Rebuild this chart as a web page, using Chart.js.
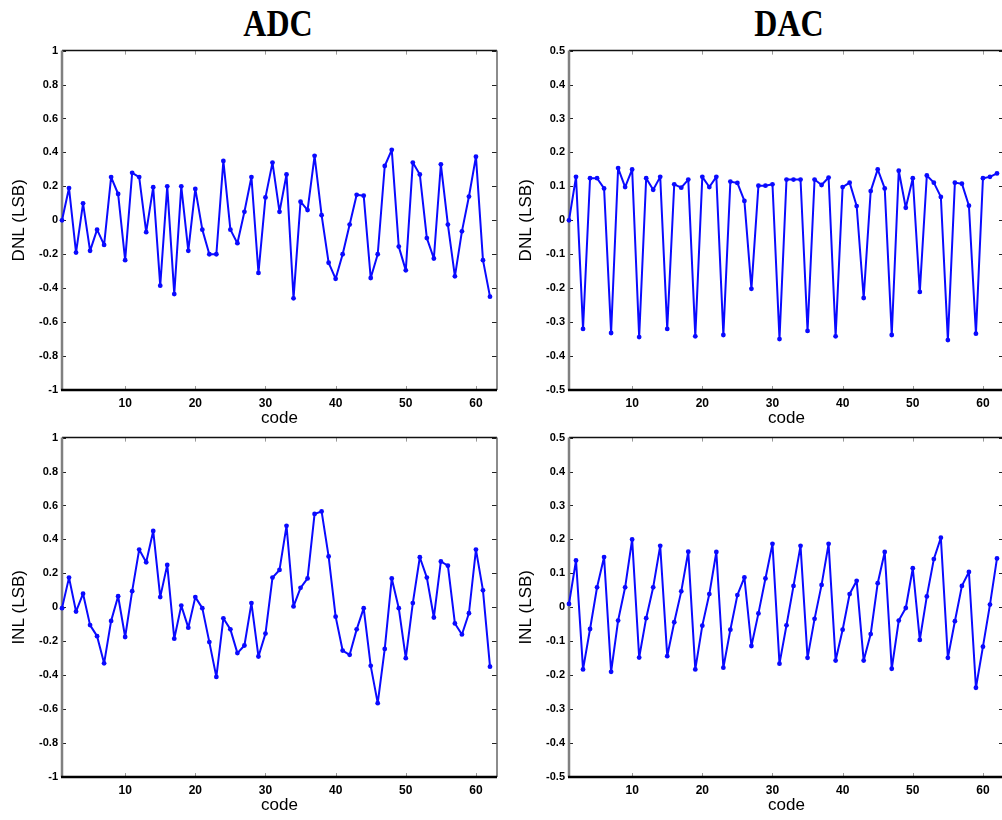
<!DOCTYPE html>
<html>
<head>
<meta charset="utf-8">
<script src="https://cdn.jsdelivr.net/npm/chart.js@4.4.1/dist/chart.umd.min.js"></script>
<style>
  html, body { margin: 0; padding: 0; background: #fff; width: 1002px; height: 820px; overflow: hidden; }
  body { position: relative; }
  canvas { position: absolute; }
  .ttl {
    position: absolute; top: 4px; width: 200px; text-align: center;
    font: bold 32px "Liberation Serif", "Times New Roman", serif; line-height: 32px;
    transform: scaleY(1.2); transform-origin: top;
  }
</style>
</head>
<body>
<div class="ttl" style="left:178px">ADC</div>
<div class="ttl" style="left:689px">DAC</div>
<canvas id="adcDnlChart" width="510" height="395" style="left:0;top:40px"></canvas>
<canvas id="dacDnlChart" width="510" height="395" style="left:507px;top:40px"></canvas>
<canvas id="adcInlChart" width="510" height="395" style="left:0;top:427px"></canvas>
<canvas id="dacInlChart" width="510" height="395" style="left:507px;top:427px"></canvas>
<script>
const codes = [1, 2, 3, 4, 5, 6, 7, 8, 9, 10, 11, 12, 13, 14, 15, 16, 17, 18, 19, 20,
  21, 22, 23, 24, 25, 26, 27, 28, 29, 30, 31, 32, 33, 34, 35, 36, 37, 38, 39, 40,
  41, 42, 43, 44, 45, 46, 47, 48, 49, 50, 51, 52, 53, 54, 55, 56, 57, 58, 59, 60, 61, 62];

const adcDnl = [0, 0.19, -0.19, 0.10, -0.18, -0.055, -0.145, 0.255, 0.155, -0.235,
  0.28, 0.255, -0.07, 0.195, -0.385, 0.20, -0.435, 0.20, -0.18, 0.185,
  -0.055, -0.20, -0.20, 0.35, -0.055, -0.135, 0.05, 0.255, -0.31, 0.135,
  0.34, 0.05, 0.27, -0.46, 0.11, 0.06, 0.38, 0.03, -0.25, -0.345,
  -0.20, -0.025, 0.15, 0.145, -0.34, -0.20, 0.32, 0.415, -0.155, -0.295,
  0.34, 0.27, -0.105, -0.225, 0.33, -0.025, -0.33, -0.065, 0.14, 0.375, -0.235, -0.45];

const adcInl = [-0.005, 0.175, -0.025, 0.08, -0.105, -0.17, -0.33, -0.08, 0.065, -0.175,
  0.095, 0.34, 0.265, 0.45, 0.06, 0.25, -0.185, 0.01, -0.12, 0.06,
  -0.005, -0.205, -0.41, -0.065, -0.13, -0.27, -0.225, 0.025, -0.29, -0.155,
  0.175, 0.22, 0.48, 0.005, 0.115, 0.17, 0.55, 0.565, 0.30, -0.055,
  -0.255, -0.28, -0.13, -0.005, -0.345, -0.565, -0.245, 0.17, -0.005, -0.30,
  0.025, 0.295, 0.175, -0.06, 0.27, 0.245, -0.095, -0.16, -0.035, 0.34, 0.10, -0.35];

const dacDnl = [0, 0.128, -0.32, 0.124, 0.124, 0.094, -0.332, 0.154, 0.098, 0.15,
  -0.344, 0.124, 0.09, 0.128, -0.32, 0.106, 0.096, 0.12, -0.342, 0.128,
  0.098, 0.128, -0.338, 0.114, 0.11, 0.057, -0.202, 0.102, 0.102, 0.106,
  -0.35, 0.12, 0.12, 0.12, -0.326, 0.12, 0.104, 0.126, -0.342, 0.098,
  0.111, 0.042, -0.229, 0.086, 0.15, 0.094, -0.338, 0.146, 0.037, 0.124,
  -0.211, 0.132, 0.111, 0.069, -0.353, 0.111, 0.108, 0.043, -0.334, 0.124, 0.128, 0.138];

const dacInl = [0.01, 0.138, -0.183, -0.064, 0.059, 0.148, -0.19, -0.039, 0.059, 0.2,
  -0.148, -0.032, 0.059, 0.181, -0.144, -0.044, 0.047, 0.164, -0.183, -0.054,
  0.039, 0.163, -0.178, -0.066, 0.036, 0.088, -0.114, -0.018, 0.085, 0.187,
  -0.166, -0.053, 0.063, 0.181, -0.149, -0.034, 0.066, 0.187, -0.157, -0.066,
  0.039, 0.078, -0.157, -0.079, 0.071, 0.163, -0.181, -0.039, -0.002, 0.115,
  -0.096, 0.032, 0.142, 0.205, -0.149, -0.041, 0.063, 0.104, -0.237, -0.116, 0.008, 0.144];

const codeTicks = [10, 20, 30, 40, 50, 60];
const adcTicks = [-1, -0.8, -0.6, -0.4, -0.2, 0, 0.2, 0.4, 0.6, 0.8, 1];
const dacTicks = [-0.5, -0.4, -0.3, -0.2, -0.1, 0, 0.1, 0.2, 0.3, 0.4, 0.5];

const FONT = "'Liberation Sans', Arial, sans-serif";

// matlab style box: inward ticks on all four sides
const boxPlugin = {
  id: 'matlabBox',
  beforeDatasetsDraw(chart) {
    const { ctx, chartArea: a, scales: { x, y } } = chart;
    const seg = (x1, y1, x2, y2) => { ctx.beginPath(); ctx.moveTo(x1, y1); ctx.lineTo(x2, y2); ctx.stroke(); };
    ctx.save();
    ctx.lineWidth = 1;
    ctx.strokeStyle = '#222';
    y.ticks.forEach(t => {
      const py = Math.round(y.getPixelForValue(t.value)) + 0.5;
      seg(a.left, py, a.left + 4, py);
      seg(a.right - 5, py, a.right, py);
    });
    ctx.strokeStyle = '#999';
    x.ticks.forEach(t => {
      const px = Math.round(x.getPixelForValue(t.value)) + 0.5;
      seg(px, a.top, px, a.top + 4);
      seg(px, a.bottom - 4, px, a.bottom);
    });
    ctx.lineWidth = 1.5;
    ctx.strokeStyle = '#111';
    seg(a.left, a.top, a.right, a.top);
    ctx.strokeStyle = '#666';
    seg(a.right, a.top, a.right, a.bottom);
    ctx.lineWidth = 2.5;
    ctx.strokeStyle = '#808080';
    seg(a.left, a.top, a.left, a.bottom);
    ctx.strokeStyle = '#000';
    seg(a.left - 1, a.bottom, a.right, a.bottom);
    ctx.restore();
  }
};

function makeChart(id, values, yTicks, yLabel) {
  new Chart(document.getElementById(id), {
    type: 'line',
    data: {
      datasets: [{
        data: codes.map((c, i) => ({ x: c, y: values[i] })),
        borderColor: '#0a0aff',
        backgroundColor: '#0a0aff',
        borderWidth: 2,
        borderJoinStyle: 'round',
        pointRadius: 2.4,
        pointBorderWidth: 0,
        tension: 0,
        clip: 6
      }]
    },
    options: {
      responsive: false,
      animation: false,
      layout: { padding: { top: 9, right: 13, left: 0, bottom: 0 } },
      plugins: { legend: { display: false }, tooltip: { enabled: false } },
      scales: {
        x: {
          type: 'linear', min: 1, max: 63,
          afterBuildTicks: s => { s.ticks = codeTicks.map(v => ({ value: v })); },
          afterFit: s => { s.height = 45; },
          grid: { display: false, drawTicks: false },
          border: { display: false },
          ticks: { padding: 6, color: '#000', autoSkip: false, maxRotation: 0,
                   font: { family: FONT, size: 12, weight: 'bold' } },
          title: { display: true, text: 'code', color: '#000',
                   font: { family: FONT, size: 17 }, padding: { top: 0, bottom: 6 } }
        },
        y: {
          min: yTicks[0], max: yTicks[yTicks.length - 1],
          afterBuildTicks: s => { s.ticks = yTicks.map(v => ({ value: v })); },
          afterFit: s => { s.width = 62; },
          grid: { display: false, drawTicks: false },
          border: { display: false },
          ticks: { padding: 4, color: '#000', autoSkip: false,
                   font: { family: FONT, size: 11, weight: 'bold' },
                   callback: v => String(+v.toFixed(2)) },
          title: { display: true, text: yLabel, color: '#000',
                   font: { family: FONT, size: 17 }, padding: { top: 9, bottom: 0 } }
        }
      }
    },
    plugins: [boxPlugin]
  });
}

makeChart('adcDnlChart', adcDnl, adcTicks, 'DNL (LSB)');
makeChart('dacDnlChart', dacDnl, dacTicks, 'DNL (LSB)');
makeChart('adcInlChart', adcInl, adcTicks, 'INL (LSB)');
makeChart('dacInlChart', dacInl, dacTicks, 'INL (LSB)');
</script>
</body>
</html>
